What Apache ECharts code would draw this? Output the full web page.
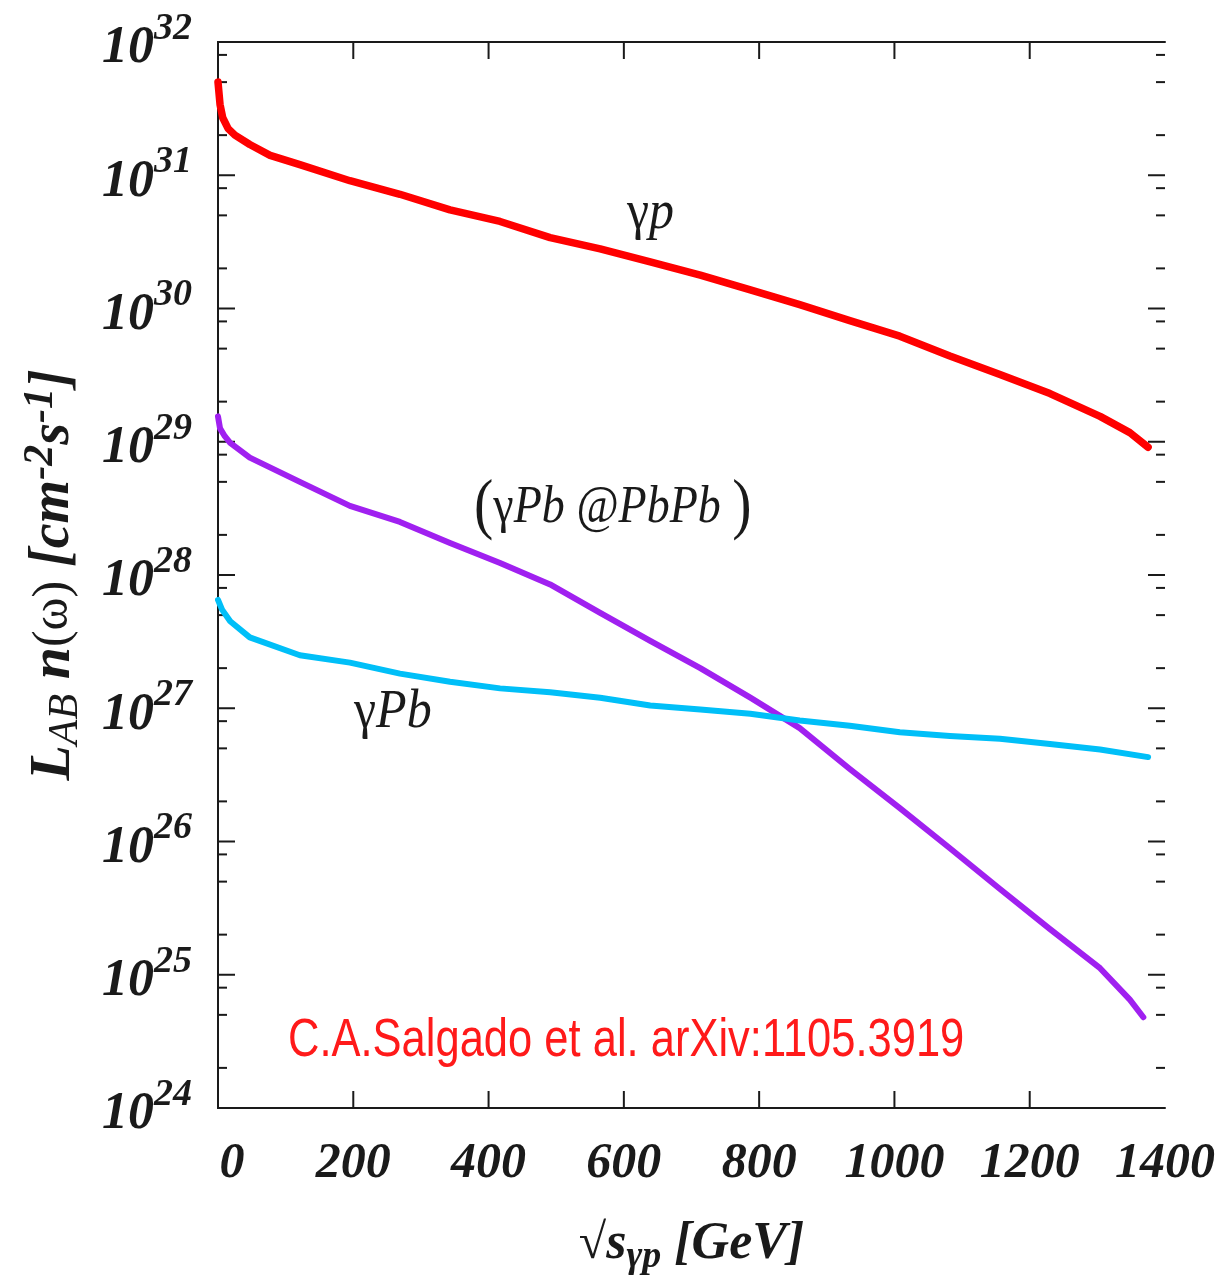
<!DOCTYPE html>
<html>
<head>
<meta charset="utf-8">
<title>Luminance vs sqrt(s)</title>
<script src="https://cdn.jsdelivr.net/npm/echarts@6/dist/echarts.min.js"></script>
<style>
  html, body { margin: 0; padding: 0; background: #fff; }
  #chart { width: 1223px; height: 1282px; }
</style>
</head>
<body>
<div id="chart"></div>
<script>
// sqrt(s_gamma-p) in GeV and effective luminosity L_AB n(omega) in cm^-2 s^-1
const gpX = [0, 3, 7, 15, 25, 47, 77, 121, 195, 269, 343, 417, 491, 565, 639, 713, 787, 860, 934, 1008, 1082, 1156, 1230, 1304, 1348, 1375];
const gpY = [5.0e31, 3.4e31, 2.7e31, 2.24e31, 2.0e31, 1.7e31, 1.41e31, 1.2e31, 9.1e30, 7.2e30, 5.5e30, 4.5e30, 3.4e30, 2.8e30, 2.24e30, 1.78e30, 1.38e30, 1.07e30, 8.1e29, 6.2e29, 4.4e29, 3.2e29, 2.3e29, 1.55e29, 1.17e29, 9.1e28];

const gPbPbPbX = [0, 3, 10, 18, 47, 121, 195, 269, 343, 417, 491, 565, 639, 713, 787, 860, 934, 1008, 1082, 1156, 1230, 1304, 1348, 1368];
const gPbPbPbY = [1.55e29, 1.26e29, 1.1e29, 9.8e28, 7.6e28, 5.0e28, 3.3e28, 2.5e28, 1.74e28, 1.23e28, 8.5e27, 5.2e27, 3.2e27, 2.0e27, 1.2e27, 7.1e26, 3.5e26, 1.78e26, 8.9e25, 4.4e25, 2.2e25, 1.12e25, 6.5e24, 4.8e24];

const gPbX = [0, 6, 18, 47, 121, 195, 269, 343, 417, 491, 565, 639, 713, 787, 860, 934, 1008, 1082, 1156, 1230, 1304, 1375];
const gPbY = [6.5e27, 5.5e27, 4.5e27, 3.4e27, 2.5e27, 2.2e27, 1.82e27, 1.58e27, 1.41e27, 1.32e27, 1.2e27, 1.05e27, 9.8e26, 9.1e26, 8.1e26, 7.4e26, 6.6e26, 6.2e26, 5.9e26, 5.4e26, 4.9e26, 4.3e26];

// axis ranges and tick settings
const xMin = 0, xMax = 1400, xStep = 200;
const yMin = 1e24, yMax = 1e32;
const decades = [24, 25, 26, 27, 28, 29, 30, 31];
const minorMantissas = [2, 5, 8];

const majorYTicks = [];
const minorYTicks = [];
decades.forEach(d => {
  majorYTicks.push([Math.pow(10, d)]);
  minorMantissas.forEach(m => minorYTicks.push([m * Math.pow(10, d)]));
});
majorYTicks.push([yMax]);
const majorXTicks = [];
for (let v = xMin + xStep; v < xMax; v += xStep) majorXTicks.push([v]);

const zip = (xs, ys) => xs.map((x, i) => [x, ys[i]]);

const serif = "'Liberation Serif', 'DejaVu Serif', serif";
const ink = '#1a1a1a';

const chart = echarts.init(document.getElementById('chart'), null, { renderer: 'canvas' });

const frameLine = () => ({ show: true, lineStyle: { color: ink, width: 2 } });

function lineSeries(name, data, color, width) {
  return {
    name, type: 'line', data, showSymbol: false, symbol: 'none',
    lineStyle: { color, width, join: 'round', cap: 'round' },
    z: 3
  };
}

// inward-pointing ticks on the frame, drawn through the axis scales
function yTickSeries(data, len) {
  return {
    type: 'custom', data, silent: true, z: 2, clip: false,
    renderItem: (params, api) => {
      const v = api.value(0);
      const l = api.coord([xMin, v]);
      const r = api.coord([xMax, v]);
      const st = { stroke: ink, lineWidth: 2 };
      return {
        type: 'group', children: [
          { type: 'line', shape: { x1: l[0], y1: l[1], x2: l[0] + len, y2: l[1] }, style: st },
          { type: 'line', shape: { x1: r[0], y1: r[1], x2: r[0] - len, y2: r[1] }, style: st }
        ]
      };
    }
  };
}
function xTickSeries(data, len) {
  return {
    type: 'custom', data, silent: true, z: 2, clip: false,
    renderItem: (params, api) => {
      const v = api.value(0);
      const b = api.coord([v, yMin]);
      const t = api.coord([v, yMax]);
      const st = { stroke: ink, lineWidth: 2 };
      return {
        type: 'group', children: [
          { type: 'line', shape: { x1: b[0], y1: b[1], x2: b[0], y2: b[1] - len }, style: st },
          { type: 'line', shape: { x1: t[0], y1: t[1], x2: t[0], y2: t[1] + len }, style: st }
        ]
      };
    }
  };
}

const up = (size) => "normal " + size + "px " + serif;
const it = (size) => "italic " + size + "px " + serif;

chart.setOption({
  animation: false,
  backgroundColor: '#fff',
  grid: { left: 218, top: 42, right: 58, bottom: 174, containLabel: false, outerBoundsMode: 'none' },
  xAxis: [
    {
      type: 'value', min: xMin, max: xMax, interval: xStep, position: 'bottom',
      axisLine: frameLine(), axisTick: { show: false }, splitLine: { show: false },
      axisLabel: {
        margin: 31, showMinLabel: true, showMaxLabel: true,
        formatter: v => v === 0 ? '{z|0}' : '{n|' + v + '}',
        rich: {
          n: { fontFamily: serif, fontStyle: 'italic', fontWeight: 'bold', fontSize: 50, color: ink },
          z: { fontFamily: serif, fontStyle: 'italic', fontWeight: 'bold', fontSize: 50, color: ink, padding: [0, 0, 0, 28] }
        }
      },
      name: '{r|√}{s|s}{sub|γp}{t| [GeV]}',
      nameLocation: 'middle', nameGap: 106, nameMoveOverlap: false,
      nameTextStyle: {
        rich: {
          r: { fontFamily: serif, fontSize: 50, color: ink },
          s: { fontFamily: serif, fontSize: 52, fontStyle: 'italic', fontWeight: 'bold', color: ink },
          sub: { fontFamily: serif, fontSize: 38, fontStyle: 'italic', fontWeight: 'bold', color: ink, padding: [24, 0, 0, 0] },
          t: { fontFamily: serif, fontSize: 52, fontStyle: 'italic', fontWeight: 'bold', color: ink }
        }
      }
    },
    {
      type: 'value', min: xMin, max: xMax, interval: xStep, position: 'top',
      axisLine: frameLine(), axisTick: { show: false }, axisLabel: { show: false }, splitLine: { show: false }
    }
  ],
  yAxis: [
    {
      type: 'log', logBase: 10, min: yMin, max: yMax, position: 'left',
      axisLine: frameLine(), axisTick: { show: false }, splitLine: { show: false }, minorTick: { show: false },
      axisLabel: {
        margin: 26,
        formatter: v => '{b|10}{s|' + Math.round(Math.log10(v)) + '}',
        rich: {
          b: { fontFamily: serif, fontStyle: 'italic', fontWeight: 'bold', fontSize: 52, color: ink, padding: [14, 0, 0, 0] },
          s: { fontFamily: serif, fontStyle: 'italic', fontWeight: 'bold', fontSize: 38, color: ink, padding: [0, 0, 26, 0] }
        }
      },
      name: '{L|L}{sub|AB}{n| n}{w|(ω)}{u| [cm}{sup|-2}{u|s}{sup|-1}{u|]}',
      nameLocation: 'middle', nameGap: 130, nameRotate: 90, nameMoveOverlap: false,
      nameTextStyle: {
        rich: {
          L: { fontFamily: serif, fontSize: 58, fontStyle: 'italic', fontWeight: 'bold', color: ink },
          n: { fontFamily: serif, fontSize: 58, fontStyle: 'italic', fontWeight: 'bold', color: ink },
          w: { fontFamily: serif, fontSize: 50, color: ink },
          sub: { fontFamily: serif, fontSize: 42, fontStyle: 'italic', color: ink, padding: [24, 0, 0, 0] },
          u: { fontFamily: serif, fontSize: 56, fontStyle: 'italic', fontWeight: 'bold', color: ink },
          sup: { fontFamily: serif, fontSize: 42, fontStyle: 'italic', fontWeight: 'bold', color: ink, padding: [0, 0, 26, 0] }
        }
      }
    },
    {
      type: 'log', logBase: 10, min: yMin, max: yMax, position: 'right',
      axisLine: frameLine(), axisTick: { show: false }, axisLabel: { show: false }, splitLine: { show: false }
    }
  ],
  series: [
    yTickSeries(majorYTicks, 17),
    yTickSeries(minorYTicks, 9),
    xTickSeries(majorXTicks, 17),
    lineSeries('γp', zip(gpX, gpY), '#ff0000', 7.5),
    lineSeries('γPb @PbPb', zip(gPbPbPbX, gPbPbPbY), '#a020f0', 6),
    lineSeries('γPb', zip(gPbX, gPbY), '#00bff8', 6)
  ],
  graphic: [
    {
      type: 'text', x: 627, y: 214, scaleY: 1.1, silent: true,
      style: {
        text: '{g|γ}{p|p}', verticalAlign: 'middle', fill: ink, font: up(50),
        rich: { g: { font: up(50), fill: ink }, p: { font: it(50), fill: ink } }
      }
    },
    {
      type: 'text', x: 474, y: 508, scaleY: 1.15, silent: true,
      style: {
        text: '{par|(}{g|γ}{t|Pb @PbPb }{par|)}', verticalAlign: 'middle', fill: ink, font: up(46),
        rich: {
          par: { font: up(58), fill: ink },
          g: { font: up(46), fill: ink },
          t: { font: it(46), fill: ink }
        }
      }
    },
    {
      type: 'text', x: 354, y: 713, scaleY: 1.1, silent: true,
      style: {
        text: '{g|γ}{t|Pb}', verticalAlign: 'middle', fill: ink, font: up(50),
        rich: { g: { font: up(50), fill: ink }, t: { font: it(50), fill: ink } }
      }
    },
    {
      type: 'text', x: 288, y: 1041, scaleY: 1.25, silent: true,
      style: {
        text: 'C.A.Salgado et al. arXiv:1105.3919', verticalAlign: 'middle',
        font: "normal 43.5px 'Liberation Sans', Arial, sans-serif", fill: '#ff1a1a'
      }
    }
  ]
});
</script>
</body>
</html>
